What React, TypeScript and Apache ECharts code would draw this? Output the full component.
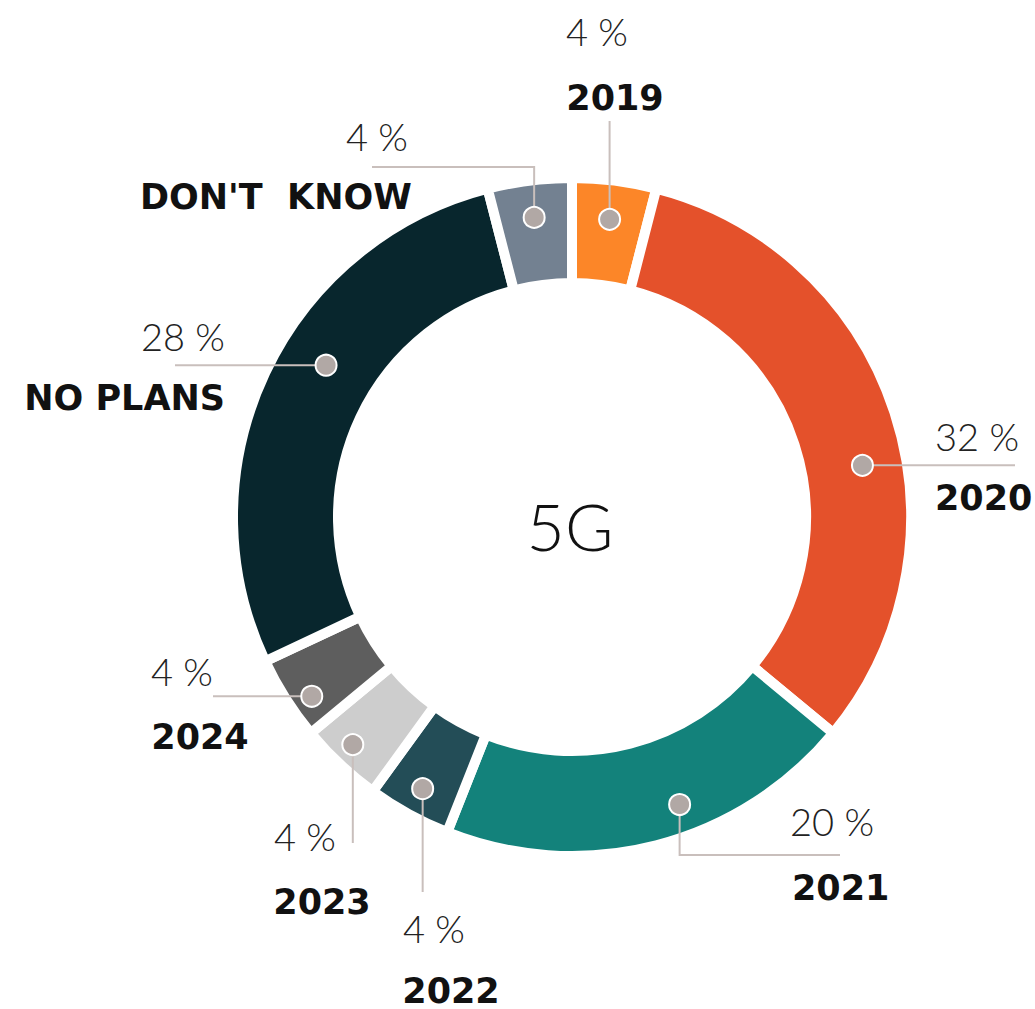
import React, { useEffect, useRef } from "react";
import * as echarts from "echarts";

// ---- data ----
const categories = ["2019", "2020", "2021", "2022", "2023", "2024", "NO PLANS", "DON'T  KNOW"];
const values = [4, 32, 20, 4, 4, 4, 28, 4];
const colors = ["#FC8628", "#E4512B", "#13827B", "#234D57", "#CDCDCD", "#5E5E5E", "#08262D", "#738191"];
const centerLabel = "5G";

// ---- layout (positions / styling only) ----
const CX = 572;
const CY = 517;
const R_OUT = 339;
const R_IN = 234;
const dotShift = [0, 2.2, -1.7, 0, 0.2, -0.6, 1.8, 0]; // percent units along the ring
const dotRadius = [300, 295, 307, 310, 316, 316, 289, 302];
const leaderPath: Array<Array<{ x?: number; y?: number }>> = [
  [{ y: 121 }],
  [{ x: 1015 }],
  [{ y: 855 }, { x: 840 }],
  [{ y: 892 }],
  [{ y: 843 }],
  [{ x: 213 }],
  [{ x: 175 }],
  [{ y: 167 }, { x: 372 }],
];
const pctPos: Array<[number, number, string]> = [
  [597, 31, "center"],
  [935, 436, "left"],
  [790, 821, "left"],
  [434, 928, "center"],
  [305, 836, "center"],
  [182, 671, "center"],
  [225, 336, "right"],
  [377, 136, "center"],
];
const namePos: Array<[number, number, string, string]> = [
  [615, 98, "center", "middle"],
  [935, 498, "left", "middle"],
  [792, 888, "left", "middle"],
  [451, 1008, "center", "bottom"],
  [322, 902, "center", "middle"],
  [200, 737, "center", "middle"],
  [225, 398, "right", "middle"],
  [140, 197, "left", "middle"],
];

export default function App() {
  const ref = useRef<HTMLDivElement>(null);
  useEffect(() => {
    if (!ref.current) return;
    const chart = echarts.init(ref.current, undefined, { renderer: "svg" });
    const total = values.reduce((a, b) => a + b, 0);
    const cum: number[] = [];
    let acc = 0;
    values.forEach((v) => {
      cum.push(acc);
      acc += v;
    });
    const dotData = values.map((v, i) => [dotRadius[i], ((cum[i] + v / 2) / total) * 100 + dotShift[i], i]);

    chart.setOption({
      animation: false,
      backgroundColor: "#ffffff",
      polar: { center: [CX, CY], radius: [0, R_OUT] },
      angleAxis: {
        type: "value",
        min: 0,
        max: 100,
        startAngle: 90,
        clockwise: true,
        show: false,
      },
      radiusAxis: { type: "value", min: 0, max: R_OUT, show: false },
      graphic: [
        {
          type: "text",
          x: 570,
          y: 525,
          style: {
            text: centerLabel,
            fontFamily: "Lato",
            fontWeight: 300,
            fontSize: 66,
            fill: "#111",
            align: "center",
            verticalAlign: "middle",
          },
          z: 10,
        },
      ],
      series: [
        {
          type: "pie",
          center: [CX, CY],
          radius: [R_IN, R_OUT],
          startAngle: 90,
          clockwise: true,
          silent: true,
          label: { show: false },
          labelLine: { show: false },
          itemStyle: { borderColor: "#ffffff", borderWidth: 10 },
          data: categories.map((c, i) => ({
            name: c,
            value: values[i],
            itemStyle: { color: colors[i] },
          })),
          z: 1,
        },
        {
          type: "custom",
          coordinateSystem: "polar",
          silent: true,
          z: 5,
          data: dotData,
          renderItem: (params: any, api: any) => {
            const i = api.value(2);
            const p = api.coord([api.value(0), api.value(1)]);
            const pts: number[][] = [[p[0], p[1]]];
            leaderPath[i].forEach((w) => {
              const last = pts[pts.length - 1];
              pts.push([w.x !== undefined ? w.x : last[0], w.y !== undefined ? w.y : last[1]]);
            });
            const pp = pctPos[i];
            const np = namePos[i];
            return {
              type: "group",
              children: [
                {
                  type: "polyline",
                  shape: { points: pts },
                  style: { stroke: "#C9BFBC", lineWidth: 2, fill: null },
                },
                {
                  type: "circle",
                  shape: { cx: p[0], cy: p[1], r: 10.5 },
                  style: { fill: "#B1A8A5", stroke: "#ffffff", lineWidth: 2 },
                },
                {
                  type: "text",
                  x: pp[0],
                  y: pp[1],
                  style: {
                    text: `${values[i]} %`,
                    fontFamily: "Lato",
                    fontWeight: 300,
                    fontSize: 38,
                    fill: "#222222",
                    align: pp[2],
                    verticalAlign: "middle",
                  },
                },
                {
                  type: "text",
                  x: np[0],
                  y: np[1],
                  style: {
                    text: categories[i],
                    fontFamily: "DejaVu Sans",
                    fontWeight: "bold",
                    fontSize: 35,
                    fill: "#111111",
                    align: np[2],
                    verticalAlign: np[3],
                  },
                },
              ],
            };
          },
        },
      ],
    });
    return () => chart.dispose();
  }, []);
  return (
    <div
      ref={ref}
      style={{ position: "absolute", left: 0, top: 0, width: 1035, height: 1009 }}
    />
  );
}
